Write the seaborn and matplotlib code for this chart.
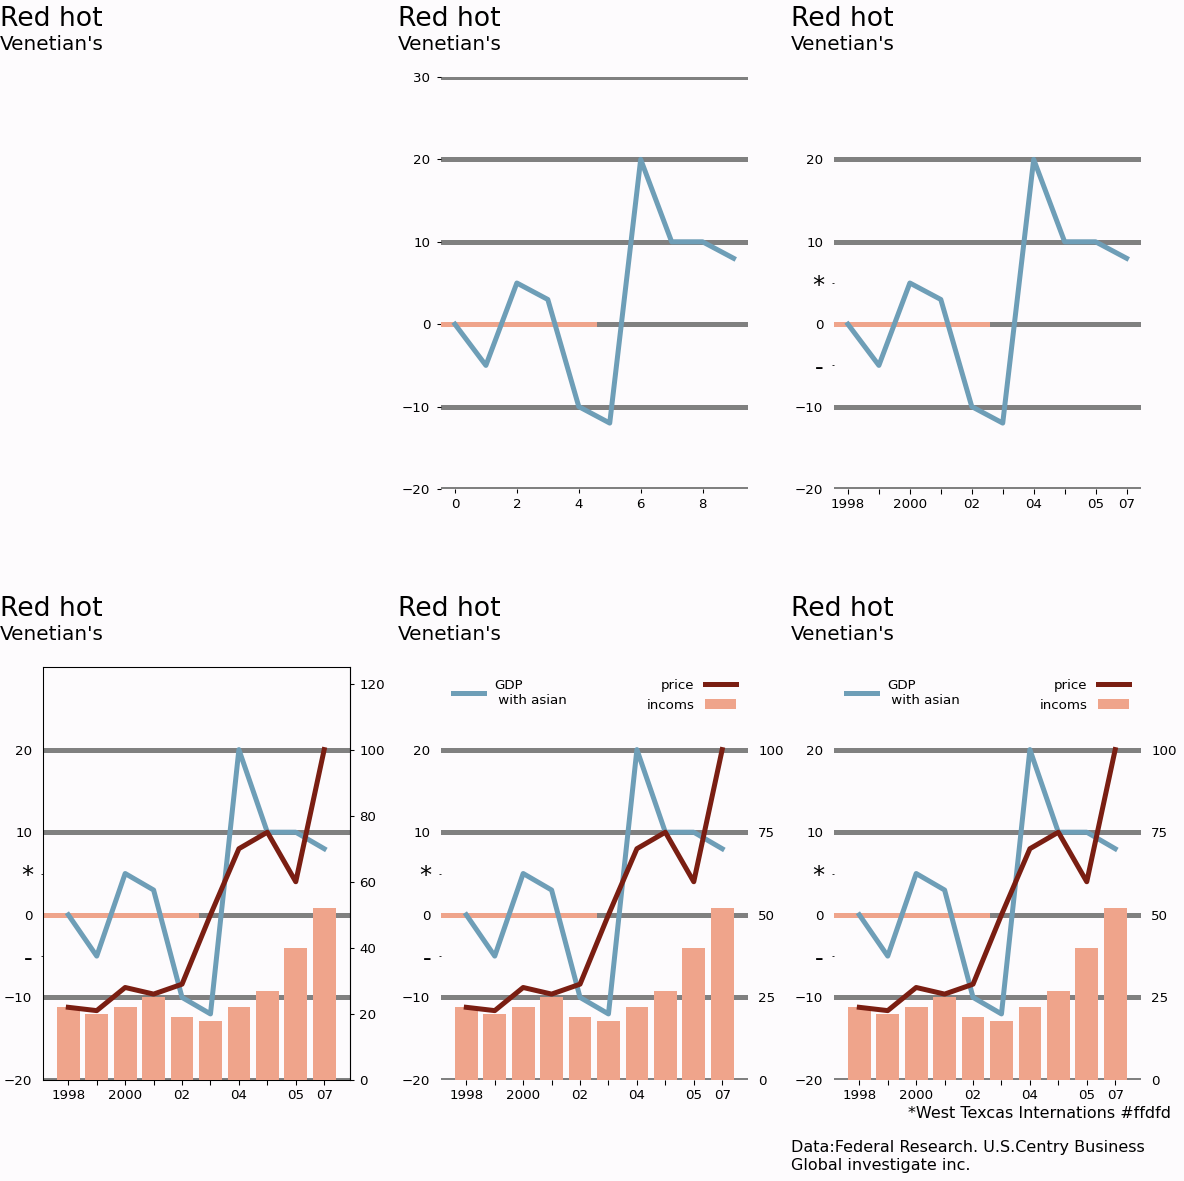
import numpy as np
import matplotlib
matplotlib.use('Agg')
import matplotlib.pyplot as plt
import seaborn as sns

# ---------------- data ----------------
positions = list(range(10))
gdp = [0, -5, 5, 3, -10, -12, 20, 10, 10, 8]
price = [22, 21, 28, 26, 29, 50, 70, 75, 60, 100]
incoms = [22, 20, 22, 25, 19, 18, 22, 27, 40, 52]
year_labels = ['1998', '', '2000', '', '02', '', '04', '', '05', '07']
plain_xticks = [0, 2, 4, 6, 8]
grid_levels_top = [-20, -10, 0, 10, 20, 30]
grid_levels = [-20, -10, 0, 10, 20]
left_ticks_top = [-20, -10, 0, 10, 20, 30]
left_ticks = [-20, -10, 0, 10, 20]
mark_ticks = [-5, 5]
mark_labels = ['-', '*']
right_ticks_box = [0, 20, 40, 60, 80, 100, 120]
right_ticks = [0, 25, 50, 75, 100]
title = 'Red hot'
subtitle = "Venetian's"
legend_gdp = 'GDP\n with asian'
legend_price = 'price'
legend_inc = 'incoms'
note = '*West Texcas Internations #ffdfd'
source1 = 'Data:Federal Research. U.S.Centry Business'
source2 = 'Global investigate inc.'

# ---------------- style ----------------
BG = '#fdfbfd'
BLUE = '#6e9eb7'
SALMON = '#efa48b'
DARKRED = '#7a1e12'
GREY = '#808080'
LW = 3.75

W, H, DPI = 1184, 1181, 96
fig = plt.figure(figsize=(W / DPI, H / DPI), dpi=DPI, facecolor=BG)

lefts = [43, 441, 834]
axw = 306.5 / W
top_b, top_h = 1 - 489 / H, 412 / H
bot_b, bot_h = 1 - 1080 / H, 413 / H


def add_titles(ax):
    ax.text(-0.140, 1.124, title, transform=ax.transAxes, fontsize=20,
            ha='left', va='baseline')
    ax.text(-0.140, 1.066, subtitle, transform=ax.transAxes, fontsize=15,
            ha='left', va='baseline')


def base_panel(ax, levels):
    ax.set_facecolor(BG)
    for lv in levels:
        ax.axhline(lv, color=GREY, linewidth=LW, zorder=1)
    ax.axhline(0, xmax=0.5, color=SALMON, linewidth=LW, zorder=2)
    sns.lineplot(x=positions, y=gdp, ax=ax, color=BLUE, linewidth=LW, zorder=3)
    line = ax.lines[-1]
    ax.set_ylim(-20, 30)
    return line


def year_axis(ax):
    ax.set_xticks(positions)
    ax.set_xticklabels(year_labels)
    ax.set_yticks(left_ticks)
    ax.set_yticks(mark_ticks, minor=True)
    ax.set_yticklabels(mark_labels, minor=True, fontsize=18)
    ax.tick_params(axis='y', which='major', length=0, pad=8, labelsize=10)
    ax.tick_params(axis='y', which='minor', length=1.5, pad=6)
    ax.tick_params(axis='x', length=3.5, labelsize=10)


# Panel 1: only titles
ax0 = fig.add_axes([lefts[0] / W, top_b, axw, top_h])
ax0.axis('off')
add_titles(ax0)

# Panel 2
ax = fig.add_axes([lefts[1] / W, top_b, axw, top_h])
base_panel(ax, grid_levels_top)
ax.set_xlim(-0.45, 9.45)
ax.set_yticks(left_ticks_top)
ax.set_xticks(plain_xticks)
ax.tick_params(axis='both', length=3, labelsize=10)
ax.tick_params(axis='y', pad=5)
for s in ax.spines.values():
    s.set_visible(False)
add_titles(ax)

# Panel 3
ax = fig.add_axes([lefts[2] / W, top_b, axw, top_h])
base_panel(ax, grid_levels)
ax.set_xlim(-0.45, 9.45)
year_axis(ax)
for s in ax.spines.values():
    s.set_visible(False)
add_titles(ax)

# Bottom panels
for i in range(3):
    ax1 = fig.add_axes([lefts[i] / W, bot_b, axw, bot_h])
    gline = base_panel(ax1, grid_levels)
    ax2 = ax1.twinx()
    sns.barplot(x=positions, y=incoms, ax=ax2, color=SALMON, saturation=1,
                width=0.8, native_scale=True, linewidth=0, zorder=1)
    bars = ax2.patches
    sns.lineplot(x=positions, y=price, ax=ax2, color=DARKRED, linewidth=LW,
                 zorder=3)
    pline = ax2.lines[-1]
    ax2.set_ylim(0, 125)
    ax1.set_xlim(-0.89, 9.89)
    year_axis(ax1)
    ax1.set_ylim(-20, 30)
    ax2.set_ylabel('')
    ax1.set_ylabel('')
    ax1.set_xlabel('')
    if i == 0:
        ax2.set_yticks(right_ticks_box)
        ax2.tick_params(axis='y', length=3, pad=4.5, labelsize=10)
        for s in ax1.spines.values():
            s.set_visible(True)
            s.set_color('black')
            s.set_linewidth(0.8)
        for k, s in ax2.spines.items():
            s.set_visible(k == 'right')
            s.set_color('black')
            s.set_linewidth(0.8)
    else:
        ax2.set_yticks(right_ticks)
        ax2.tick_params(axis='y', length=0, pad=8, labelsize=10)
        for s in ax1.spines.values():
            s.set_visible(False)
        for s in ax2.spines.values():
            s.set_visible(False)
        ax1.legend(handles=[gline], labels=[legend_gdp], loc='upper left',
                   frameon=False, fontsize=10, handlelength=2.3)
        patch = bars[0]
        ax2.legend(handles=[pline, patch], labels=[legend_price, legend_inc],
                   loc='upper right', frameon=False, fontsize=10,
                   markerfirst=False, handlelength=2.3)
    for a in (ax1, ax2):
        lg = a.get_legend()
        if i == 0 and lg is not None:
            lg.remove()
    add_titles(ax1)
    if i == 2:
        ax1.text(1.098, -0.092, note, transform=ax1.transAxes, fontsize=12,
                 ha='right', va='baseline')
        ax1.text(-0.140, -0.174, source1, transform=ax1.transAxes,
                 fontsize=12, ha='left', va='baseline')
        ax1.text(-0.140, -0.218, source2, transform=ax1.transAxes,
                 fontsize=12, ha='left', va='baseline')

fig.savefig('out.png', dpi=DPI, facecolor=BG)
